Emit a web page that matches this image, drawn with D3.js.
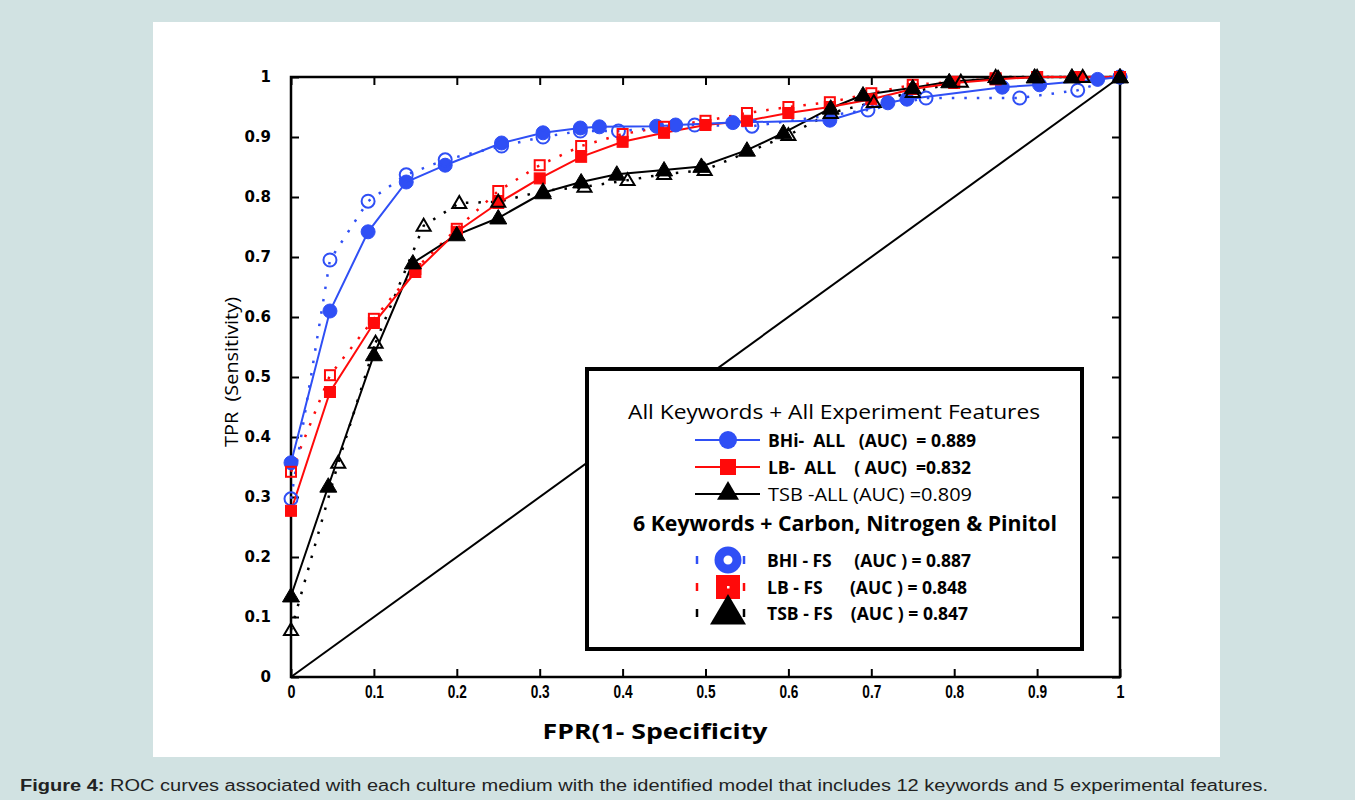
<!DOCTYPE html>
<html>
<head>
<meta charset="utf-8">
<script src="https://cdn.jsdelivr.net/npm/d3@7"></script>
<style>
  body { margin: 0; background: #d1e2e2; }
  svg { display: block; }
</style>
</head>
<body>
<svg id="chart"></svg>
<script>
// ROC points: [FPR, TPR]
const bhiAll = [[0, 0.357], [0.047, 0.61], [0.093, 0.742], [0.139, 0.825], [0.186, 0.853], [0.254, 0.89],
  [0.304, 0.907], [0.349, 0.915], [0.372, 0.917], [0.441, 0.918], [0.464, 0.92], [0.533, 0.924],
  [0.65, 0.928], [0.72, 0.957], [0.743, 0.963], [0.858, 0.983], [0.903, 0.987], [0.973, 0.996], [1, 1]];
const bhiFs = [[0, 0.297], [0.047, 0.695], [0.093, 0.793], [0.139, 0.837], [0.186, 0.862], [0.254, 0.885],
  [0.304, 0.9], [0.349, 0.91], [0.395, 0.91], [0.487, 0.92], [0.556, 0.918], [0.696, 0.945],
  [0.766, 0.965], [0.879, 0.965], [0.949, 0.978], [1, 1]];
const lbAll = [[0, 0.277], [0.047, 0.475], [0.1, 0.59], [0.15, 0.675], [0.2, 0.742], [0.25, 0.79],
  [0.3, 0.831], [0.35, 0.867], [0.4, 0.892], [0.45, 0.907], [0.5, 0.92], [0.55, 0.927], [0.6, 0.94],
  [0.65, 0.95], [0.7, 0.963], [0.75, 0.98], [0.8, 0.99], [0.85, 0.996], [0.9, 1], [0.95, 1], [1, 1]];
const lbFs = [[0, 0.342], [0.047, 0.503], [0.1, 0.597], [0.15, 0.68], [0.2, 0.747], [0.25, 0.81],
  [0.3, 0.853], [0.35, 0.885], [0.4, 0.905], [0.45, 0.917], [0.5, 0.927], [0.55, 0.94], [0.6, 0.95],
  [0.65, 0.958], [0.7, 0.973], [0.75, 0.987], [0.8, 0.992], [0.85, 0.998], [0.9, 1], [0.95, 1], [1, 1]];
const tsbAll = [[0, 0.135], [0.045, 0.318], [0.1, 0.537], [0.147, 0.69], [0.2, 0.737], [0.25, 0.765],
  [0.304, 0.807], [0.35, 0.825], [0.393, 0.838], [0.45, 0.845], [0.495, 0.851], [0.55, 0.878],
  [0.594, 0.907], [0.651, 0.948], [0.69, 0.97], [0.75, 0.982], [0.794, 0.992], [0.853, 0.998],
  [0.897, 1], [0.942, 1], [1, 1]];
const tsbFs = [[0, 0.078], [0.057, 0.357], [0.102, 0.557], [0.16, 0.752], [0.203, 0.79], [0.25, 0.792],
  [0.304, 0.81], [0.354, 0.817], [0.406, 0.828], [0.45, 0.838], [0.499, 0.845], [0.6, 0.903],
  [0.651, 0.94], [0.703, 0.958], [0.75, 0.975], [0.808, 0.992], [0.85, 1], [0.9, 1], [0.955, 1], [1, 1]];

const ticks = [0, 0.1, 0.2, 0.3, 0.4, 0.5, 0.6, 0.7, 0.8, 0.9, 1];

const legendAll = ["BHi-  ALL   (AUC)  = 0.889", "LB-  ALL    ( AUC)  =0.832", "TSB -ALL (AUC) =0.809"];
const legendFs = ["BHI - FS     (AUC ) = 0.887", "LB - FS      (AUC ) = 0.848", "TSB - FS    (AUC ) = 0.847"];

const width = 1355;
const height = 800;
const blue = "#2f4ff5";
const red = "#ff0a0a";
const black = "#000";

const svg = d3.select("#chart").attr("width", width).attr("height", height);

// white panel
svg.append("rect").attr("x", 153).attr("y", 22).attr("width", 1067).attr("height", 735).attr("fill", "#fff");

const xScale = d3.scaleLinear().domain([0, 1]).range([291, 1120]);
const yScale = d3.scaleLinear().domain([0, 1]).range([677, 77]);

const fmt = d => d === 0 ? "0" : d === 1 ? "1" : d3.format(".1f")(d);

// axes with inward ticks
const xAxis = svg.append("g").attr("transform", "translate(0,677)")
  .call(d3.axisBottom(xScale).tickValues(ticks).tickFormat(fmt).tickSizeInner(-8).tickSizeOuter(0).tickPadding(8));
const yAxis = svg.append("g").attr("transform", "translate(291,0)")
  .call(d3.axisLeft(yScale).tickValues(ticks).tickFormat(fmt).tickSizeInner(-8).tickSizeOuter(0).tickPadding(20));
svg.append("g").attr("transform", "translate(0,77)")
  .call(d3.axisTop(xScale).tickValues(ticks).tickFormat("").tickSizeInner(-8).tickSizeOuter(0));
svg.append("g").attr("transform", "translate(1120,0)")
  .call(d3.axisRight(yScale).tickValues(ticks).tickFormat("").tickSizeInner(-8).tickSizeOuter(0));

svg.selectAll(".domain").remove();
svg.selectAll(".tick line").attr("stroke", "#000").attr("stroke-width", 2);

xAxis.selectAll("text")
  .style("font-family", "'Liberation Sans', Arial, sans-serif")
  .style("font-weight", "bold").style("font-size", "19px").attr("fill", "#000")
  .attr("textLength", d => (d === 0 || d === 1) ? 8 : 19).attr("lengthAdjust", "spacingAndGlyphs");
yAxis.selectAll("text")
  .style("font-family", "'DejaVu Sans', sans-serif")
  .style("font-weight", "bold").style("font-size", "15px").attr("fill", "#000");

svg.append("rect").attr("x", 291).attr("y", 77).attr("width", 829).attr("height", 600)
  .attr("fill", "none").attr("stroke", "#000").attr("stroke-width", 2.5);

// chance diagonal
svg.append("line")
  .attr("x1", xScale(0)).attr("y1", yScale(0)).attr("x2", xScale(1)).attr("y2", yScale(1))
  .attr("stroke", "#000").attr("stroke-width", 2);

const line = d3.line().x(d => xScale(d[0])).y(d => yScale(d[1]));

const drawSeries = (data, color, solid) => {
  svg.append("path").datum(data).attr("d", line).attr("fill", "none")
    .attr("stroke", color)
    .attr("stroke-width", solid ? 2 : 2.5)
    .attr("stroke-dasharray", solid ? null : "2.5,10");
};

const circle = (g, data, color, filled) => {
  g.selectAll(null).data(data).enter().append("circle")
    .attr("cx", d => xScale(d[0])).attr("cy", d => yScale(d[1])).attr("r", filled ? 7 : 6.5)
    .attr("fill", filled ? color : "none").attr("stroke", color).attr("stroke-width", filled ? 1 : 2);
};
const square = (g, data, color, filled) => {
  const s = filled ? 11 : 10;
  g.selectAll(null).data(data).enter().append("rect")
    .attr("x", d => xScale(d[0]) - s / 2).attr("y", d => yScale(d[1]) - s / 2)
    .attr("width", s).attr("height", s)
    .attr("fill", filled ? color : "none").attr("stroke", color).attr("stroke-width", filled ? 1 : 2);
};
const triPath = (w) => `M0,${-w * 0.5}L${w / 2},${w * 0.35}L${-w / 2},${w * 0.35}Z`;
const triangle = (g, data, filled) => {
  g.selectAll(null).data(data).enter().append("path")
    .attr("transform", d => `translate(${xScale(d[0])},${yScale(d[1])})`)
    .attr("d", triPath(filled ? 17 : 14))
    .attr("fill", filled ? "#000" : "none").attr("stroke", "#000").attr("stroke-width", filled ? 1 : 2);
};

drawSeries(tsbFs, black, false);
drawSeries(lbFs, red, false);
drawSeries(bhiFs, blue, false);
drawSeries(tsbAll, black, true);
drawSeries(lbAll, red, true);
drawSeries(bhiAll, blue, true);

const marks = svg.append("g");
circle(marks, bhiAll, blue, true);
circle(marks, bhiFs, blue, false);
square(marks, lbAll, red, true);
square(marks, lbFs, red, false);
triangle(marks, tsbAll, true);
triangle(marks, tsbFs, false);

// legend
const lg = svg.append("g");
lg.append("rect").attr("x", 587).attr("y", 369).attr("width", 495).attr("height", 280)
  .attr("fill", "#fff").attr("stroke", "#000").attr("stroke-width", 4);

const font = "'Open Sans', 'Noto Sans', sans-serif";
lg.append("text").attr("x", 628).attr("y", 419).attr("font-family", font).attr("font-size", 20)
  .attr("textLength", 412).attr("lengthAdjust", "spacingAndGlyphs")
  .text("All Keywords + All Experiment Features");
lg.append("text").attr("x", 633).attr("y", 531).attr("font-family", font).attr("font-size", 21)
  .attr("font-weight", "bold").attr("textLength", 424).attr("lengthAdjust", "spacingAndGlyphs")
  .text("6 Keywords + Carbon, Nitrogen & Pinitol");

const allY = [440, 467, 494];
const allColors = [blue, red, black];
const allWidths = [208, 203, 204];
legendAll.forEach((t, i) => {
  lg.append("line").attr("x1", 695).attr("x2", 760).attr("y1", allY[i]).attr("y2", allY[i])
    .attr("stroke", allColors[i]).attr("stroke-width", 2);
  lg.append("text").attr("x", 768).attr("y", allY[i] + 7).attr("font-family", font)
    .attr("font-size", 18).attr("font-weight", i < 2 ? "bold" : "normal")
    .attr("textLength", allWidths[i]).attr("lengthAdjust", "spacingAndGlyphs")
    .style("white-space", "pre").text(t);
});
lg.append("circle").attr("cx", 728).attr("cy", allY[0]).attr("r", 9).attr("fill", blue);
lg.append("rect").attr("x", 720).attr("y", allY[1] - 8).attr("width", 16).attr("height", 16).attr("fill", red);
lg.append("path").attr("transform", `translate(728,${allY[2] - 2})`).attr("d", triPath(22)).attr("fill", "#000");

const fsY = [560, 587, 613];
const fsWidths = [204, 200, 201];
legendFs.forEach((t, i) => {
  [697, 744].forEach(x => {
    lg.append("line").attr("x1", x).attr("x2", x).attr("y1", fsY[i] - 4).attr("y2", fsY[i] + 4)
      .attr("stroke", allColors[i]).attr("stroke-width", 2.5);
  });
  lg.append("text").attr("x", 767).attr("y", fsY[i] + 7).attr("font-family", font)
    .attr("font-size", 18).attr("font-weight", "bold")
    .attr("textLength", fsWidths[i]).attr("lengthAdjust", "spacingAndGlyphs")
    .style("white-space", "pre").text(t);
});
lg.append("circle").attr("cx", 728).attr("cy", fsY[0]).attr("r", 9).attr("fill", "none")
  .attr("stroke", blue).attr("stroke-width", 9);
lg.append("rect").attr("x", 716).attr("y", fsY[1] - 12).attr("width", 24).attr("height", 24).attr("fill", red);
lg.append("rect").attr("x", 727).attr("y", fsY[1] - 1).attr("width", 2.5).attr("height", 2.5).attr("fill", "#fff");
lg.append("path").attr("transform", `translate(728,${fsY[2] - 1})`).attr("d", triPath(36)).attr("fill", "#000");

// axis titles
svg.append("text").attr("x", 655).attr("y", 739).attr("text-anchor", "middle")
  .attr("font-family", font).attr("font-size", 22).attr("font-weight", "bold")
  .attr("textLength", 225).attr("lengthAdjust", "spacingAndGlyphs")
  .text("FPR(1- Specificity");
svg.append("text").attr("transform", "translate(238,372) rotate(-90)").attr("text-anchor", "middle")
  .attr("font-family", font).attr("font-size", 19)
  .attr("textLength", 150).attr("lengthAdjust", "spacingAndGlyphs")
  .style("white-space", "pre").text("TPR  (Sensitivity)");

// caption
const cap = svg.append("text").attr("x", 20).attr("y", 791)
  .attr("font-family", "'Liberation Sans', Arial, sans-serif").attr("font-size", 16).attr("fill", "#222")
  .attr("textLength", 1248).attr("lengthAdjust", "spacingAndGlyphs");
cap.append("tspan").attr("font-weight", "bold").text("Figure 4:");
cap.append("tspan").text(" ROC curves associated with each culture medium with the identified model that includes 12 keywords and 5 experimental features.");
</script>
</body>
</html>
